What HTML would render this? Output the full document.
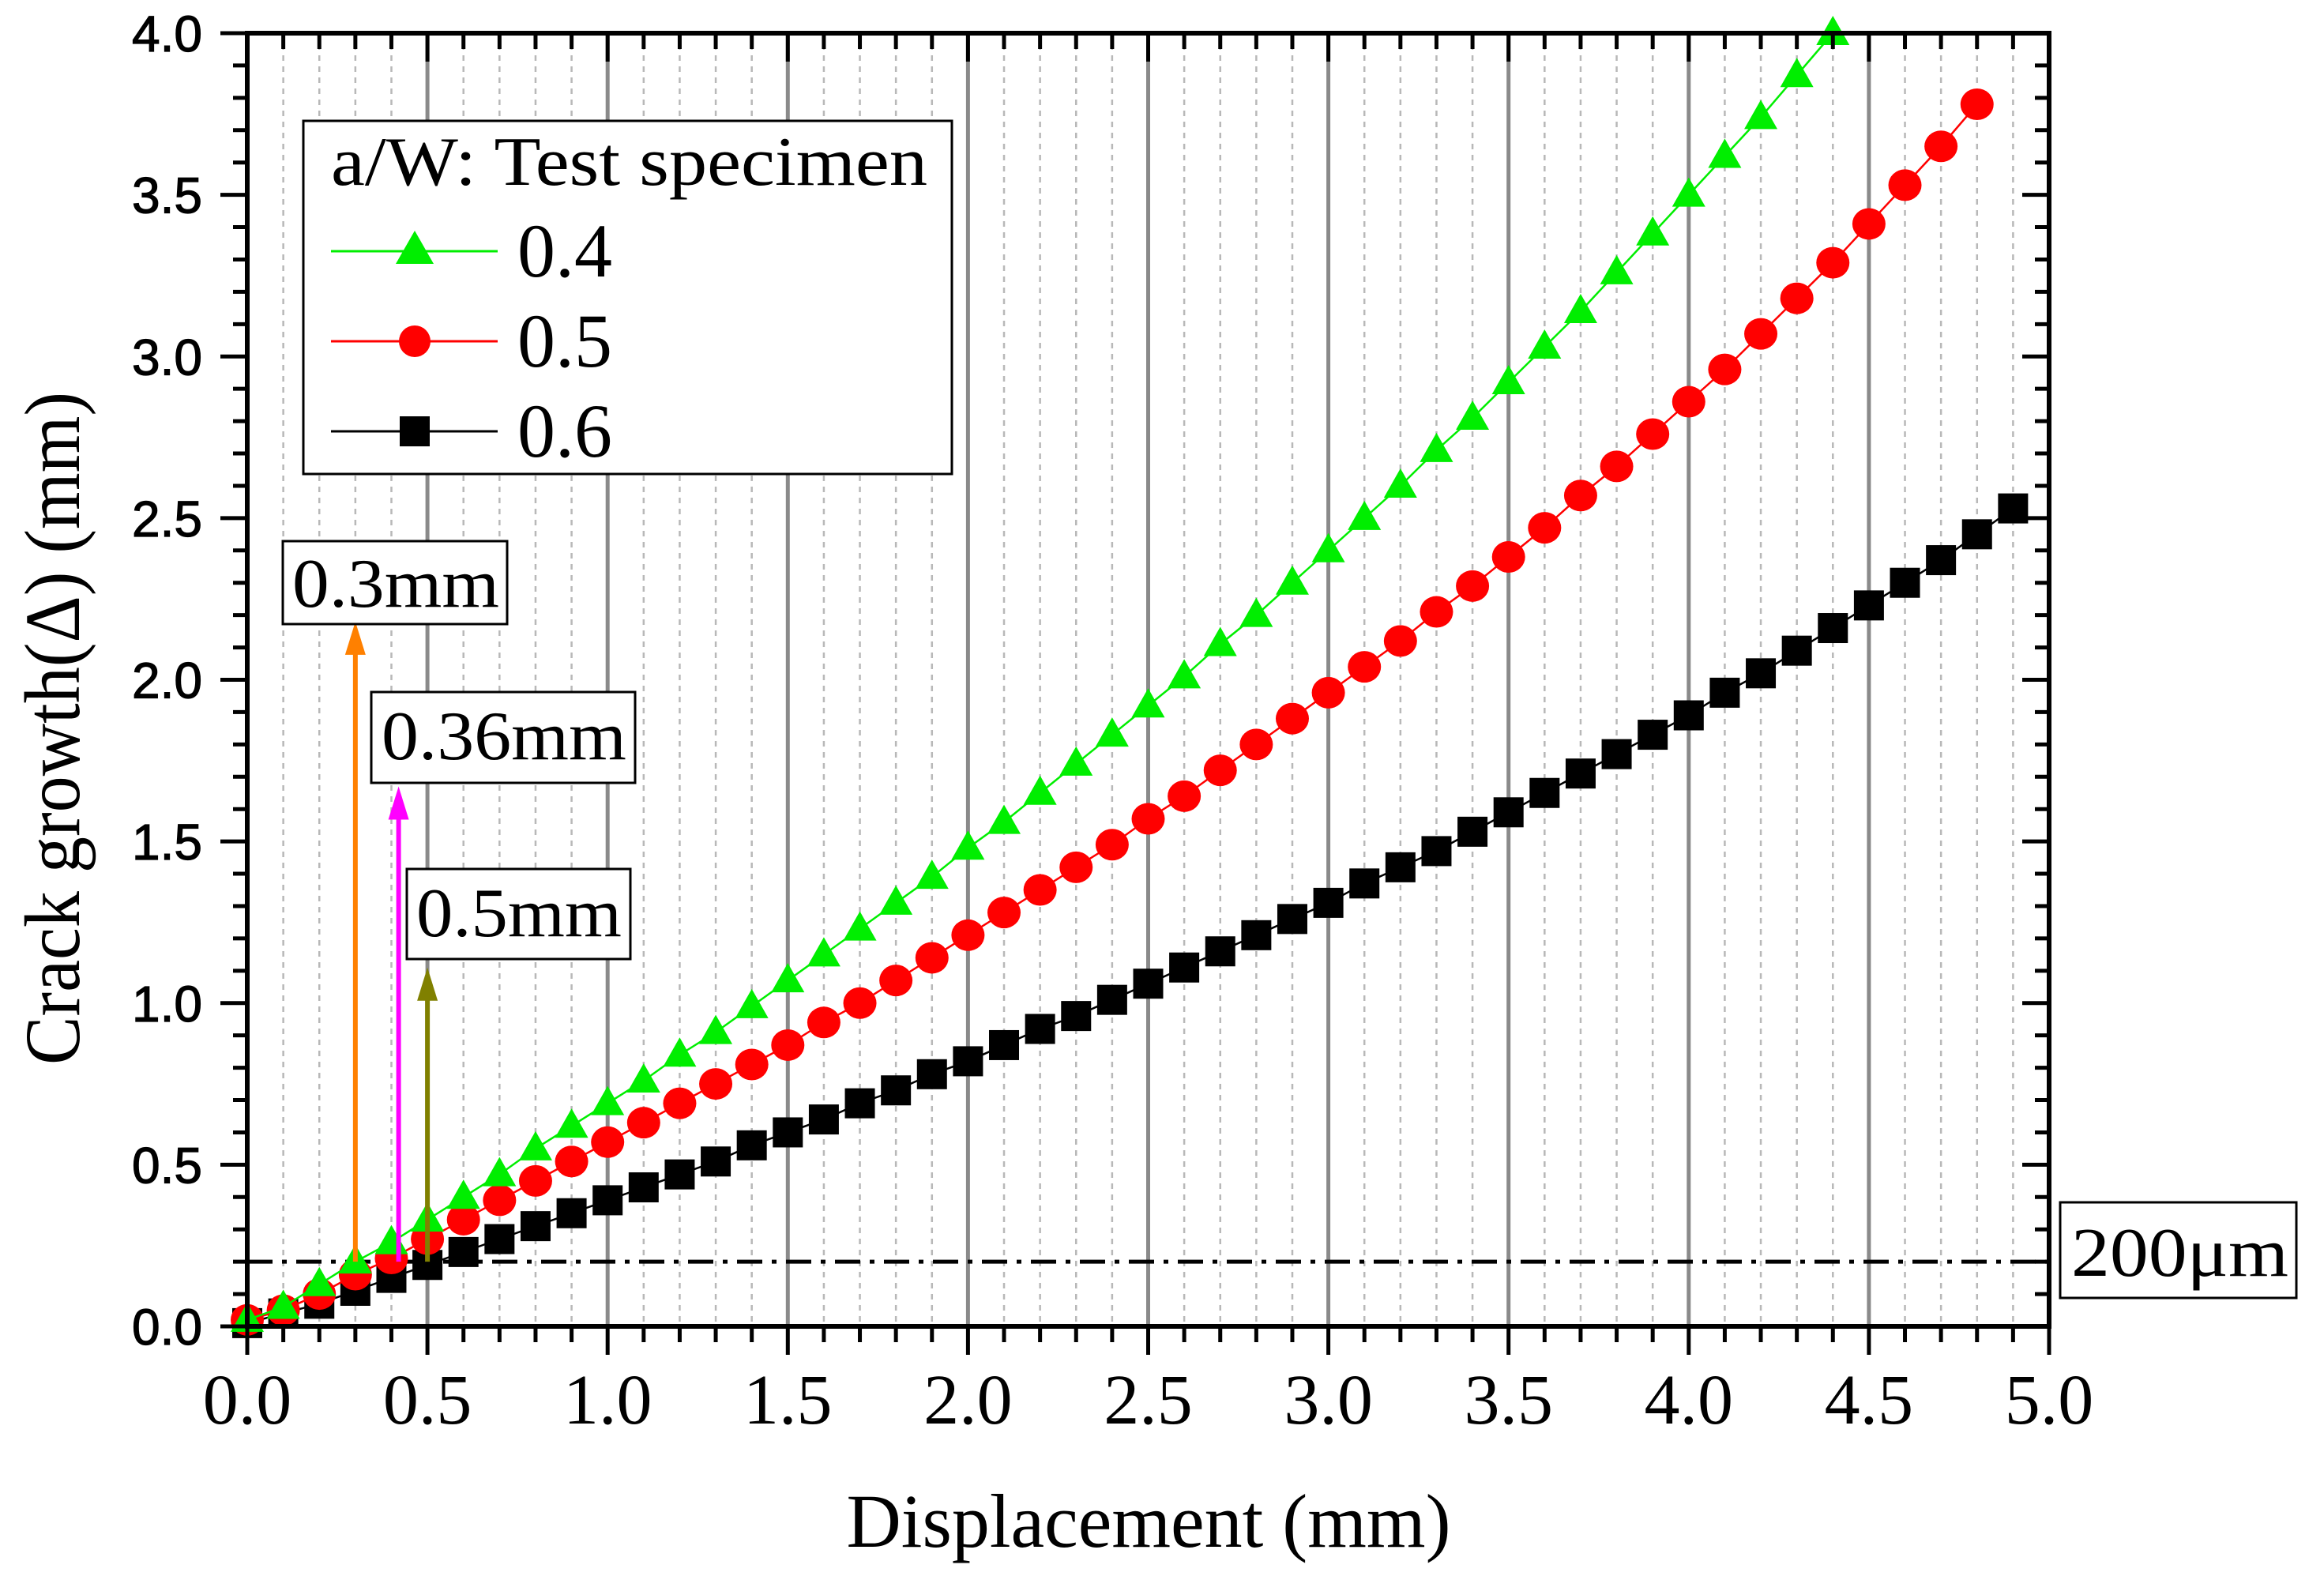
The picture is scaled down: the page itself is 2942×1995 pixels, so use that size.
<!DOCTYPE html>
<html><head><meta charset="utf-8"><style>
html,body{margin:0;padding:0;background:#fff;}
svg{display:block;}
</style></head><body>
<svg id="chart" width="2942" height="1995" viewBox="0 0 2942 1995" xmlns="http://www.w3.org/2000/svg"></svg>
<script>
const xs04 = [0,0.1,0.2,0.3,0.4,0.5,0.6,0.7,0.8,0.9,1.0,1.1,1.2,1.3,1.4,1.5,1.6,1.7,1.8,1.9,2.0,2.1,2.2,2.3,2.4,2.5,2.6,2.7,2.8,2.9,3.0,3.1,3.2,3.3,3.4,3.5,3.6,3.7,3.8,3.9,4.0,4.1,4.2,4.3,4.4];
const ys04 = [0.02,0.06,0.13,0.20,0.26,0.33,0.40,0.47,0.55,0.62,0.69,0.76,0.84,0.91,0.99,1.07,1.15,1.23,1.31,1.39,1.48,1.56,1.65,1.74,1.83,1.92,2.01,2.11,2.20,2.30,2.40,2.50,2.60,2.71,2.81,2.92,3.03,3.14,3.26,3.38,3.50,3.62,3.74,3.87,4.00];
const xs05 = [0,0.1,0.2,0.3,0.4,0.5,0.6,0.7,0.8,0.9,1.0,1.1,1.2,1.3,1.4,1.5,1.6,1.7,1.8,1.9,2.0,2.1,2.2,2.3,2.4,2.5,2.6,2.7,2.8,2.9,3.0,3.1,3.2,3.3,3.4,3.5,3.6,3.7,3.8,3.9,4.0,4.1,4.2,4.3,4.4,4.5,4.6,4.7,4.8];
const ys05 = [0.02,0.05,0.10,0.16,0.21,0.27,0.33,0.39,0.45,0.51,0.57,0.63,0.69,0.75,0.81,0.87,0.94,1.00,1.07,1.14,1.21,1.28,1.35,1.42,1.49,1.57,1.64,1.72,1.80,1.88,1.96,2.04,2.12,2.21,2.29,2.38,2.47,2.57,2.66,2.76,2.86,2.96,3.07,3.18,3.29,3.41,3.53,3.65,3.78];
const xs06 = [0,0.1,0.2,0.3,0.4,0.5,0.6,0.7,0.8,0.9,1.0,1.1,1.2,1.3,1.4,1.5,1.6,1.7,1.8,1.9,2.0,2.1,2.2,2.3,2.4,2.5,2.6,2.7,2.8,2.9,3.0,3.1,3.2,3.3,3.4,3.5,3.6,3.7,3.8,3.9,4.0,4.1,4.2,4.3,4.4,4.5,4.6,4.7,4.8,4.9];
const ys06 = [0.01,0.04,0.07,0.11,0.15,0.19,0.23,0.27,0.31,0.35,0.39,0.43,0.47,0.51,0.56,0.60,0.64,0.69,0.73,0.78,0.82,0.87,0.92,0.96,1.01,1.06,1.11,1.16,1.21,1.26,1.31,1.37,1.42,1.47,1.53,1.59,1.65,1.71,1.77,1.83,1.89,1.96,2.02,2.09,2.16,2.23,2.30,2.37,2.45,2.53];
const xTickLabels = ["0.0","0.5","1.0","1.5","2.0","2.5","3.0","3.5","4.0","4.5","5.0"];
const yTickLabels = ["0.0","0.5","1.0","1.5","2.0","2.5","3.0","3.5","4.0"];
const thresholdY = [0.2];
const arrowX = [0.3, 0.42, 0.5];
const arrowTop = [2.18, 1.67, 1.11];
const arrowLabels = ["0.3mm","0.36mm","0.5mm"];

const NS = "http://www.w3.org/2000/svg";
const svg = document.getElementById('chart');
const L=313, R=2594, T=42, B=1679;
const sx = v => L + v*(R-L)/5;
const sy = v => B - v*(B-T)/4;
function mk(tag, attrs, parent){
  const e=document.createElementNS(NS,tag);
  for(const k in attrs) e.setAttribute(k, attrs[k]);
  (parent||svg).appendChild(e); return e;
}
const serif='"Liberation Serif", serif', sans='"Liberation Sans", sans-serif';

const grid = mk('g',{});


for(let i=1;i<50;i++){
  const x=sx(i/10);
  if(i%5===0){
    const ln=mk('line',{x1:x,y1:T,x2:x,y2:B,stroke:'#8a8a8a','stroke-width':5},grid);
    
    
  } else {
    const ln=mk('line',{x1:x,y1:T,x2:x,y2:B,stroke:'#b8b8b8','stroke-width':2.5,'stroke-dasharray':'7 7'},grid);
    
    
  }
}

thresholdY.forEach(v=>{
  const ln=mk('line',{x1:L,y1:sy(v),x2:R,y2:sy(v),stroke:'#000','stroke-width':5,'stroke-dasharray':'32 12 6 12'});
  
  
});

function series(xs, ys, color, marker, name){
  const g=mk('g',{});
  
  
  const pts=xs.map((x,i)=>sx(x)+','+sy(ys[i])).join(' ');
  const pl=mk('polyline',{points:pts,fill:'none',stroke:color,'stroke-width':2.5},g);
  
  
  xs.forEach((x,i)=>{
    const cx=sx(x), cy=sy(ys[i]);
    let m;
    if(marker==='tri') m=mk('polygon',{points:`${cx},${cy-22} ${cx-21},${cy+15} ${cx+21},${cy+15}`,fill:color},g);
    else if(marker==='circ') m=mk('ellipse',{cx:cx,cy:cy,rx:21,ry:20,fill:color},g);
    else m=mk('rect',{x:cx-19,y:cy-19,width:38,height:38,fill:color},g);
    
    
  });
}
series(xs06, ys06, '#000', 'sq', 'series-0-6');
series(xs05, ys05, '#ff0000', 'circ', 'series-0-5');
series(xs04, ys04, '#00ee00', 'tri', 'series-0-4');

const arrowColors=['#ff8000','#ff00ff','#808000'];
arrowX.forEach((v,i)=>{
  const x=sx(v), y0=sy(0.2), y1=sy(arrowTop[i]);
  const ln=mk('line',{x1:x,y1:y0,x2:x,y2:y1+38,stroke:arrowColors[i],'stroke-width':6});
  
  
  const hd=mk('polygon',{points:`${x},${y1} ${x-13},${y1+42} ${x+13},${y1+42}`,fill:arrowColors[i]});
  
  
});

function box(x,y,w,h,txt,tx,ty,name,tl){
  const r=mk('rect',{x:x,y:y,width:w,height:h,fill:'#fff',stroke:'#000','stroke-width':3});
  
  
  const t=mk('text',{x:tx,y:ty,'font-family':serif,'font-size':88,fill:'#000',textLength:tl,lengthAdjust:'spacingAndGlyphs'});
  t.textContent=txt;
  
  
}
box(358,685,284,105,'0.3mm',370,768,'annotation-0-3mm',262);
box(470,876,334,115,'0.36mm',483,961,'annotation-0-36mm',310);
box(515,1100,283,114,'0.5mm',527,1185,'annotation-0-5mm',260);
box(2608,1522,299,121,'200μm',2622,1615,'annotation-200um',275);

const ax=mk('rect',{x:L,y:T,width:R-L,height:B-T,fill:'none',stroke:'#000','stroke-width':6});


for(let i=0;i<=50;i++){
  const x=sx(i/10), maj=i%5===0;
  mk('line',{x1:x,y1:B,x2:x,y2:B+(maj?36:20),stroke:'#000','stroke-width':5});
  mk('line',{x1:x,y1:T,x2:x,y2:T+(maj?36:20),stroke:'#000','stroke-width':5});
}
for(let i=0;i<=40;i++){
  const y=sy(i/10), maj=i%5===0;
  mk('line',{x1:L,y1:y,x2:L-(maj?34:18),y2:y,stroke:'#000','stroke-width':5});
  mk('line',{x1:R,y1:y,x2:R-(maj?34:18),y2:y,stroke:'#000','stroke-width':5});
}
xTickLabels.forEach((s,i)=>{
  const t=mk('text',{x:sx(i*0.5),y:1802,'text-anchor':'middle','font-family':serif,'font-size':90,fill:'#000'});
  t.textContent=s;
  
  
});
yTickLabels.forEach((s,i)=>{
  const t=mk('text',{x:256,y:sy(i*0.5)+23,'text-anchor':'end','font-family':sans,'font-size':64,fill:'#000',stroke:'#000','stroke-width':1.2});
  t.textContent=s;
  
  
});
const xt=mk('text',{x:1454,y:1958,'text-anchor':'middle','font-family':serif,'font-size':96,fill:'#000'});
xt.textContent='Displacement (mm)';


const yt=mk('text',{x:0,y:0,'text-anchor':'middle','font-family':serif,'font-size':100,fill:'#000',transform:'translate(100,922) rotate(-90)',textLength:852,lengthAdjust:'spacingAndGlyphs'});
yt.textContent='Crack growth(Δ) (mm)';



const lg=mk('g',{});


mk('rect',{x:384,y:153,width:821,height:447,fill:'#fff',stroke:'#000','stroke-width':3},lg);
const lt=mk('text',{x:419,y:234,'font-family':serif,'font-size':88,fill:'#000',textLength:755,lengthAdjust:'spacingAndGlyphs'},lg);
lt.textContent='a/W: Test specimen';


const legItems=[['0.4','#00ee00','tri',318],['0.5','#ff0000','circ',432],['0.6','#000','sq',546]];
legItems.forEach(([lab,col,mkr,y])=>{
  const g=mk('g',{},lg);
  
  
  mk('line',{x1:419,y1:y,x2:630,y2:y,stroke:col,'stroke-width':3},g);
  const cx=525;
  if(mkr==='tri') mk('polygon',{points:`${cx},${y-26} ${cx-24},${y+16} ${cx+24},${y+16}`,fill:col},g);
  else if(mkr==='circ') mk('ellipse',{cx:cx,cy:y,rx:20,ry:20,fill:col},g);
  else mk('rect',{x:cx-19,y:y-19,width:38,height:38,fill:col},g);
  const t=mk('text',{x:655,y:y+32,'font-family':serif,'font-size':96,fill:'#000'},g);
  t.textContent=lab;
});
</script>
</body></html>
